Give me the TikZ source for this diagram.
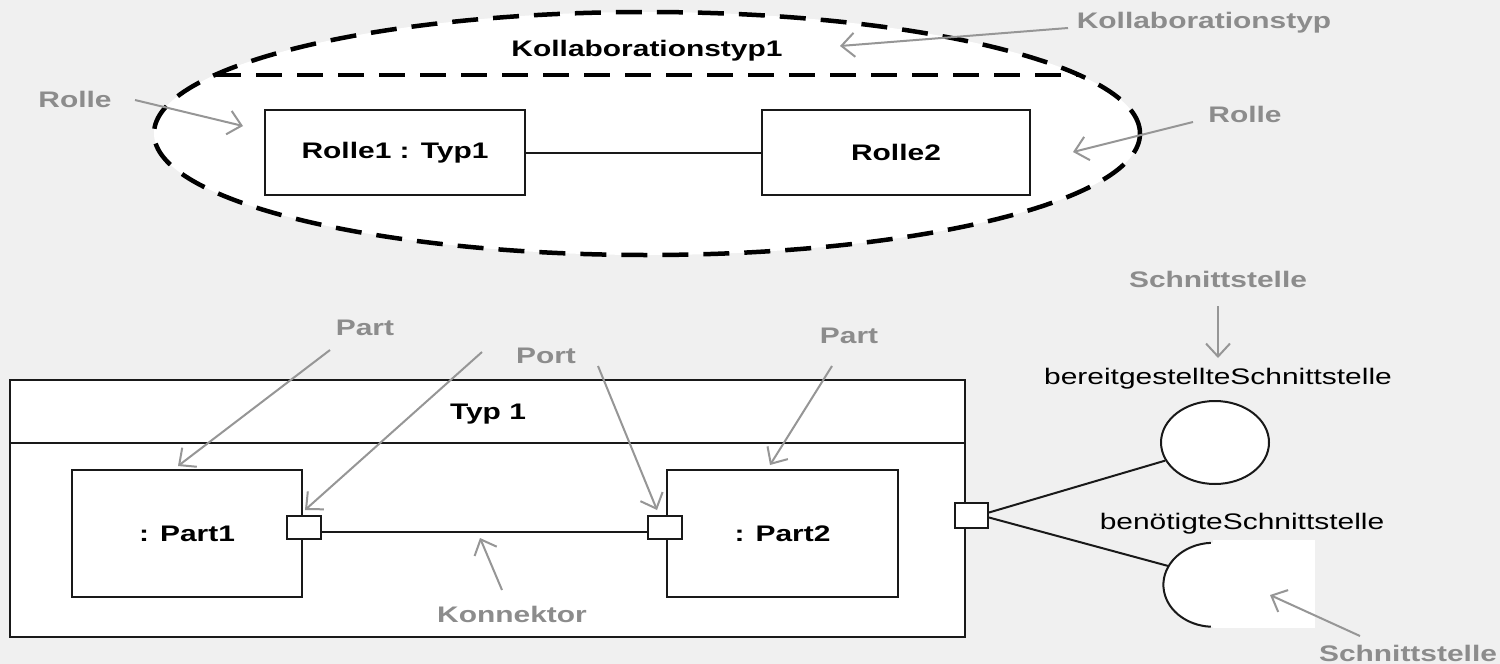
\documentclass[tikz,border=0pt]{standalone}
\usepackage{fontspec}
\usetikzlibrary{shapes.geometric,arrows.meta}
\newfontfamily\umlf{Liberation Sans}[FakeStretch=1.33]
\definecolor{bgc}{RGB}{240,240,240}
\definecolor{lblc}{RGB}{140,140,140}
\definecolor{arrc}{RGB}{150,150,150}
\definecolor{inkc}{RGB}{25,25,25}
\begin{document}
\begin{tikzpicture}[x=1pt,y=-1pt,
  every node/.style={font=\umlf\fontsize{22.5}{26}\selectfont, inner sep=0pt},
  umlbox/.style={draw=inkc, line width=2pt, fill=white, font=\umlf\bfseries\fontsize{22.5}{26}\selectfont},
  portbox/.style={draw=inkc, line width=2pt, fill=white},
  collabdash/.style={draw=black, line width=4.5pt, dash pattern=on 26pt off 15pt},
  note/.style={text=lblc, font=\umlf\bfseries\fontsize{22.5}{26}\selectfont},
  notearrow/.style={draw=arrc, line width=2pt, -{Straight Barb[length=13pt,width=24pt,line width=2pt]}},
  wire/.style={draw=inkc, line width=2pt}
]
\useasboundingbox (0,0) rectangle (1500,664);
\fill[bgc] (0,0) rectangle (1500,664);

% ---------- collaboration ----------
\node[ellipse, collabdash, fill=white, minimum width=986pt, minimum height=243pt] (collab) at (647,133.5) {};
\coordinate (dl) at (215,75);
\coordinate (dr) at (1079,75);
\draw[collabdash] (dl) -- (dr);
\node[font=\umlf\bfseries\fontsize{22.5}{26}\selectfont] (ktitle) at (647,51) {Kollaborationstyp1};
\node[umlbox, minimum width=260pt, minimum height=85pt] (r1) at (395,152.5) {Rolle1 : Typ1};
\node[umlbox, minimum width=268pt, minimum height=85pt] (r2) at (896,152.5) {Rolle2};
\draw[wire] (r1) -- (r2);

% ---------- structured class ----------
\node[umlbox, minimum width=955pt, minimum height=257pt] (typ) at (487.5,508.5) {};
\coordinate (sepl) at (10,443);
\coordinate (sepr) at (965,443);
\draw[wire] (sepl) -- (sepr);
\node[font=\umlf\bfseries\fontsize{22.5}{26}\selectfont] (typtitle) at (488,414) {Typ 1};
\node[umlbox, minimum width=230pt, minimum height=127pt] (p1) at (187,533.5) {: Part1};
\node[umlbox, minimum width=231pt, minimum height=127pt] (p2) at (782.5,533.5) {: Part2};
\node[portbox, minimum width=34pt, minimum height=23pt] (port1) at (304,527) {};
\node[portbox, minimum width=34pt, minimum height=23pt] (port2) at (665,527) {};
\draw[wire] ([yshift=-5pt]port1.east) -- ([yshift=-5pt]port2.west);
\node[portbox, minimum width=33pt, minimum height=25pt] (outp) at (971.5,515.5) {};

% ---------- interfaces ----------
\node[ellipse, draw=inkc, line width=2pt, fill=white, minimum width=108pt, minimum height=83pt] (prov) at (1215,442.5) {};
\node[ellipse, draw=none, fill=white, minimum width=100pt, minimum height=84pt] (req) at (1213,585) {};
\fill[white] (1213,540) rectangle (1315,628);
\draw[wire] (req.93) arc[start angle=93, end angle=267, x radius=50pt, y radius=42pt];
\draw[wire] ([yshift=3pt]outp.east) -- (prov.200);
\draw[wire] ([yshift=-2pt]outp.east) -- (req.157);
\node (provlbl) at (1218,379) {bereitgestellteSchnittstelle};
\node (reqlbl) at (1242,524) {benötigteSchnittstelle};

% ---------- annotations ----------
\node[note] (nkol) at (1204,23) {Kollaborationstyp};
\coordinate (tkol0) at (1068,28);
\coordinate (tkol) at (840,46);
\draw[notearrow] (tkol0) -- (tkol);

\node[note] (nrolleL) at (75,99) {Rolle};
\coordinate (trl0) at (135,100);
\coordinate (trl) at (243,126);
\draw[notearrow] (trl0) -- (trl);

\node[note] (nrolleR) at (1245,114) {Rolle};
\coordinate (trr0) at (1193,122);
\coordinate (trr) at (1073,152);
\draw[notearrow] (trr0) -- (trr);

\node[note] (npartL) at (365,328) {Part};
\coordinate (tpl0) at (330,350);
\coordinate (tpl) at (178,466);
\draw[notearrow] (tpl0) -- (tpl);

\node[note] (nport) at (546,356) {Port};
\coordinate (tpo10) at (482,352);
\coordinate (tpo1) at (305,510);
\draw[notearrow] (tpo10) -- (tpo1);
\coordinate (tpo20) at (598,366);
\coordinate (tpo2) at (657,510);
\draw[notearrow] (tpo20) -- (tpo2);

\node[note] (npartR) at (849,336) {Part};
\coordinate (tpr0) at (832,366);
\coordinate (tpr) at (770,465);
\draw[notearrow] (tpr0) -- (tpr);

\node[note] (nkon) at (512,614) {Konnektor};
\coordinate (tkon0) at (502,590);
\coordinate (tkon) at (480,538);
\draw[notearrow] (tkon0) -- (tkon);

\node[note] (nschT) at (1218,279) {Schnittstelle};
\coordinate (tst0) at (1218,306);
\coordinate (tst) at (1218,358);
\draw[notearrow] (tst0) -- (tst);

\node[note] (nschB) at (1408,653) {Schnittstelle};
\coordinate (tsb0) at (1360,636);
\coordinate (tsb) at (1270,595);
\draw[notearrow] (tsb0) -- (tsb);
\end{tikzpicture}
\end{document}
